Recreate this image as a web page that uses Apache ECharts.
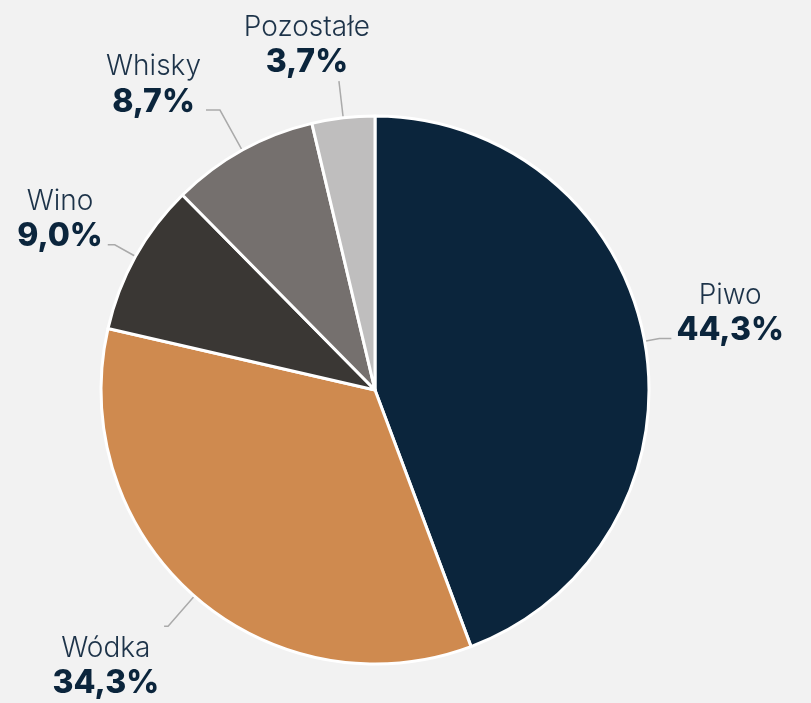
<!DOCTYPE html>
<html><head><meta charset="utf-8">
<script src="https://cdn.jsdelivr.net/npm/echarts@6/dist/echarts.min.js"></script>
<style>html,body{margin:0;padding:0;background:#f2f2f2;}#c{width:811px;height:703px;}</style>
</head><body><div id="c"></div>
<script>
const categories = ['Piwo', 'Wódka', 'Wino', 'Whisky', 'Pozostałe'];
const values = [44.3, 34.3, 9.0, 8.7, 3.7];
const colors = ['#0b253c', '#cf8a4f', '#3a3734', '#75706e', '#bfbebe'];
// per-slice label line lengths and label paddings (styling only)
const lineLen = [15, 40, 24, 46, 37];
const lineLen2 = [12, 4, 7, 14, 0];
const labelPad = [[0,0,50,0], [80,0,0,0], [0,0,50,0], [0,0,50,0], [0,0,72,0]];

const chart = echarts.init(document.getElementById('c'), null, {renderer: 'canvas'});
const data = categories.map((n, i) => ({
  name: n, value: values[i],
  itemStyle: {color: colors[i]},
  label: {padding: labelPad[i]},
  labelLine: {length: lineLen[i], length2: lineLen2[i]}
}));
chart.setOption({
  backgroundColor: '#f2f2f2',
  animation: false,
  series: [{
    type: 'pie',
    center: [375, 390],
    radius: 274,
    startAngle: 90,
    clockwise: true,
    avoidLabelOverlap: false,
    itemStyle: {borderColor: '#ffffff', borderWidth: 3},
    label: {
      show: true,
      position: 'outside',
      distanceToLabelLine: 5,
      formatter: p => '{n|' + p.name + '}\n{v|' + p.value.toFixed(1).replace('.', ',') + '%}',
      rich: {
        n: {fontFamily: 'Inter', fontWeight: 300, fontSize: 28, color: '#1d3349', lineHeight: 34, align: 'center'},
        v: {fontFamily: 'Inter', fontWeight: 800, fontSize: 32, color: '#0b253c', lineHeight: 36, align: 'center'}
      }
    },
    labelLayout: function (params) {
      if (params.dataIndex === 4) return {dx: 36, hideOverlap: false};
      return {hideOverlap: false};
    },
    labelLine: {show: true, lineStyle: {color: '#aaaaaa', width: 1.5}},
    data: data
  }]
});
</script></body></html>
